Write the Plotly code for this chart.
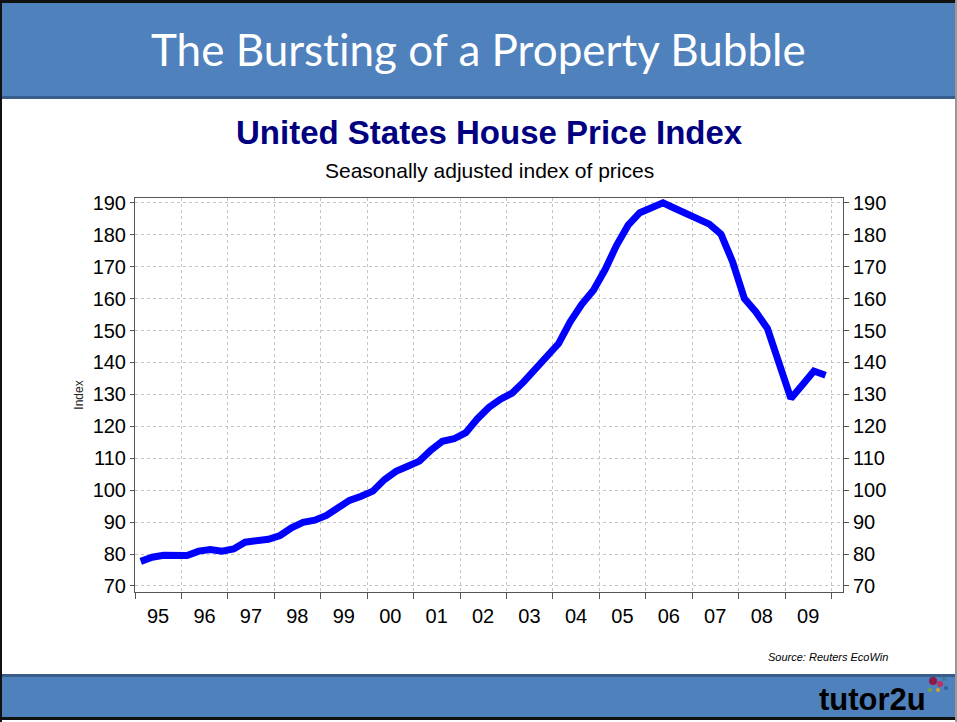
import pandas as pd
import plotly.graph_objects as go


# quarterly index, 1995Q1 - 2009Q4
quarters = pd.period_range('1995Q1', '2009Q4', freq='Q')
hpi = [
	77.7, 79.0, 79.6, 79.4,
	79.5, 80.9, 81.4, 80.9,
	81.6, 83.7, 84.3, 84.6,
	85.8, 88.2, 89.9, 90.6,
	92.1, 94.5, 96.8, 98.1,
	99.7, 103.3, 105.9, 107.5,
	109.1, 112.5, 115.3, 116.1,
	118.0, 122.3, 125.9, 128.5,
	130.4, 133.9, 137.8, 141.7,
	145.9, 152.7, 158.2, 162.6,
	169.1, 176.7, 183.0, 186.9,
	188.6, 190.0, 188.3, 186.7,
	185.1, 183.3, 180.2, 171.5,
	160.0, 155.8, 150.6, 139.7,
	128.7, 132.9, 137.3, 136.0,
]
y_ticks = [70, 80, 90, 100, 110, 120, 130, 140, 150, 160, 170, 180, 190]

# zero-width non-joiner keeps Lato from drawing a "ti" ligature
header_title = 'The Burst\u200cing of a Property Bubble'
chart_title = 'United States House Price Index'
chart_subtitle = 'Seasonally adjusted index of prices'
source_text = 'Source: Reuters EcoWin'

W, H = 957, 722
L, R, T, B = 135, 843, 198, 592  # plot area in pixels

def px(x):
	return (x - L) / (R - L)

def py(y):
	return (B - y) / (B - T)

dates = quarters.to_timestamp(how='start') + pd.Timedelta(days=45)
YR = [68.1, 191.5]
XR = ['1995-01-01', '2010-04-01']
BAND = '#4f81bd'
BAND_DARK = '#385d8a'
ARIAL = 'Liberation Sans, Arial, sans-serif'

fig = go.Figure()
fig.add_trace(go.Scatter(x=dates, y=hpi, mode='lines',
	line=dict(color='#0000ff', width=7), hoverinfo='skip', showlegend=False))
# invisible copy so the right axis gets drawn
fig.add_trace(go.Scatter(x=dates, y=hpi, mode='lines', yaxis='y2',
	line=dict(color='rgba(0,0,0,0)', width=0), hoverinfo='skip', showlegend=False))

axis_font = dict(family=ARIAL, size=20, color='black')
fig.update_layout(
	width=W, height=H,
	margin=dict(l=L, r=W - R, t=T, b=H - B),
	paper_bgcolor='white', plot_bgcolor='white',
	xaxis=dict(
		type='date', range=XR,
		tick0='1995-07-01', dtick='M12', tickformat='%y',
		ticks='', showgrid=False, tickfont=axis_font,
		ticklabelstandoff=6,
		showline=True, linecolor='#555555', linewidth=1, mirror=True,
		minor=dict(tick0='1995-01-01', dtick='M12', ticks='outside', ticklen=6,
			tickcolor='#555555', showgrid=True, gridcolor='#c4c4c4',
			griddash='dot', gridwidth=1),
		zeroline=False,
	),
	yaxis=dict(
		range=YR, tickvals=y_ticks, ticks='outside', ticklen=4,
		tickcolor='#555555', tickfont=axis_font,
		showgrid=True, gridcolor='#c4c4c4', griddash='dot', gridwidth=1,
		showline=True, linecolor='#555555', linewidth=1, zeroline=False,
		title=dict(text='Index', font=dict(family=ARIAL, size=12, color='#222222'),
			standoff=6),
	),
	yaxis2=dict(
		range=YR, tickvals=y_ticks, overlaying='y', side='right',
		ticks='outside', ticklen=5, tickcolor='#555555', tickfont=axis_font,
		showgrid=False, showline=True, linecolor='#555555', linewidth=1,
		zeroline=False,
	),
)

def box(x0, y0, x1, y1, color):
	fig.add_shape(type='rect', xref='paper', yref='paper',
		x0=px(x0), x1=px(x1), y0=py(y1), y1=py(y0),
		fillcolor=color, line=dict(width=0), layer='above')

# header band
box(0, 3, W, 97, BAND)
box(0, 96, W, 99, BAND_DARK)
box(0, 0, W, 3, '#111111')
# footer band
box(0, 675, W, 718, BAND)
box(0, 674, W, 677, BAND_DARK)
box(0, 717, W, 720, '#111111')
# side borders
box(0, 0, 2, H, '#111111')
box(955, 0, W, H, '#999999')

# small logo blobs next to tutor2u
logo_x = [933, 940, 944, 938, 946, 930]
logo_y = [681, 684, 679, 690, 688, 690]
logo_r = [4, 3, 2, 2, 2, 2]
logo_c = ['#8b1a4a', '#c03060', '#3a7a9a', '#d4a030', '#3060a0', '#7aa040']
for cx, cy, r, c in zip(logo_x, logo_y, logo_r, logo_c):
	fig.add_shape(type='circle', xref='paper', yref='paper',
		x0=px(cx - r), x1=px(cx + r), y0=py(cy + r), y1=py(cy - r),
		fillcolor=c, line=dict(width=0), layer='above')

def note(text, x, y, size, color='black', family=ARIAL, xanchor='center'):
	fig.add_annotation(text=text, x=px(x), y=py(y), xref='paper', yref='paper',
		xanchor=xanchor, yanchor='middle', showarrow=False,
		font=dict(family=family, size=size, color=color))

note(header_title, 478, 49, 44, color='white', family='Lato, Open Sans, sans-serif')
note('<b>' + chart_title + '</b>', 490, 133, 33, color='#000080')
note(chart_subtitle, 489, 170, 21)
note('<i>' + source_text + '</i>', 890, 657, 11, xanchor='right')
note('<b>tutor2u</b>', 872, 699, 31)

fig.write_html('out.html', config={'displayModeBar': False},
	post_script="document.body.style.margin='0';")
